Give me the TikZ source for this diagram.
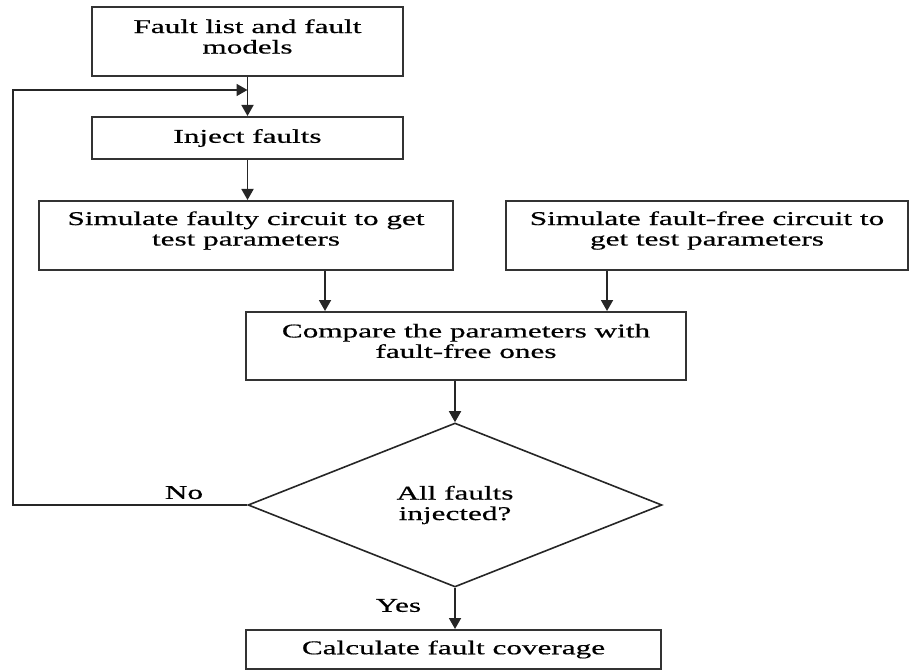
\documentclass[tikz,border=0pt]{standalone}
\usepackage{fontspec}
\setmainfont{Liberation Serif}[FakeStretch=1.6,FakeBold=0.6]
\usetikzlibrary{arrows.meta,shapes.geometric}

\tikzset{
  box/.style={draw=black!80, line width=2pt, rectangle, align=center, inner sep=0pt},
  boxtext/.style={label={[align=center, yshift=5pt]center:#1}},
  decision/.style={draw=black!85, line width=1.6pt, diamond, align=center, inner sep=0pt,
    minimum width=414pt, minimum height=164pt},
  flow/.style={draw=black!85, line width=1.8pt, -{Triangle[width=12pt,length=11pt]}},
  lab/.style={inner sep=1pt}
}

\begin{document}
\begin{tikzpicture}[x=10pt, y=-10pt, font=\fontsize{19.5}{20.5}\selectfont]
  %%%%% START %%%%%
  \useasboundingbox (0,0) rectangle (91,67.1);

  \node[box, minimum width=311pt, minimum height=69pt, boxtext={Fault list and fault\\models}] (list) at (24.75, 4.15) {};
  \node[box, minimum width=311pt, minimum height=42pt] (inject) at (24.75, 13.8) {Inject faults};

  \node[box, minimum width=414pt, minimum height=69pt, boxtext={Simulate faulty circuit to get\\test parameters}] (faulty) at (24.6, 23.55) {};
  \node[box, minimum width=402pt, minimum height=69pt, boxtext={Simulate fault-free circuit to\\get test parameters}] (golden) at (70.7, 23.55) {};

  \node[box, minimum width=440pt, minimum height=68pt, boxtext={Compare the parameters with\\fault-free ones}] (compare) at (46.6, 34.6) {};
  \node[decision] (done) at (45.5, 50.5) {All faults\\injected?};
  \node[box, minimum width=415pt, minimum height=39pt] (coverage) at (45.35, 64.95) {Calculate fault coverage};

  \coordinate (back) at (1.3, 9.0);

  \draw[flow] (list) -- (inject);
  \draw[flow] (inject) -- (inject |- faulty.north);
  \draw[flow] ([xshift=79pt]faulty.south) -- ([xshift=79pt]faulty.south |- compare.north);
  \draw[flow] ([xshift=-100pt]golden.south) -- ([xshift=-100pt]golden.south |- compare.north);
  \draw[flow] (done.north |- compare.south) -- (done.north);
  \draw[flow] (done.south) -- node[lab, pos=0.43, left=32pt] (yes) {Yes} (done.south |- coverage.north);

  % back to injection
  \draw[flow] (done.west) -- node[lab, pos=0.27, above=4pt] (no) {No} (done.west -| back) -- (back) -- (back -| list.south);

  %%%%% END %%%%%
\end{tikzpicture}
\end{document}
